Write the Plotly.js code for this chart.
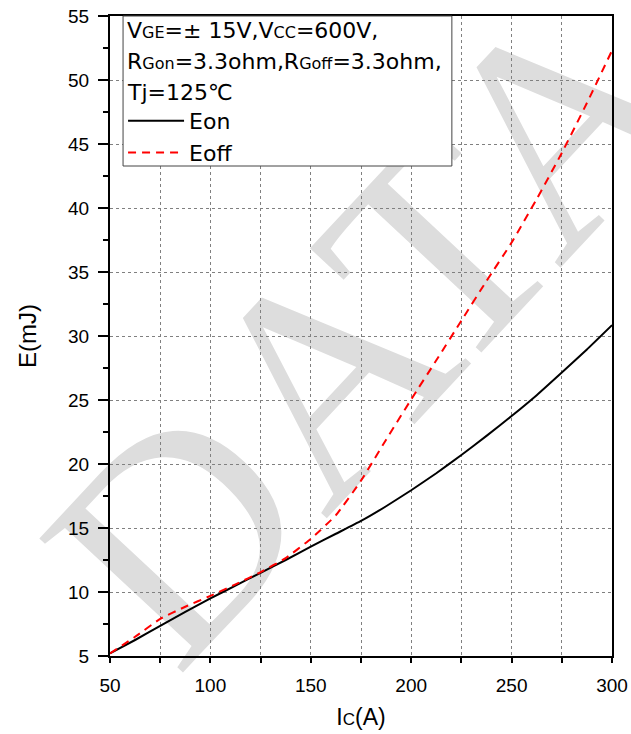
<!DOCTYPE html>
<html>
<head>
<meta charset="utf-8">
<script src="https://cdn.plot.ly/plotly-3.0.1.min.js"></script>
<style>html,body{margin:0;padding:0;background:#fff;}#chart{width:631px;height:734px;}</style>
</head>
<body>
<div id="chart"></div>
<script>
// Collector current Ic (A)
var ic = [50, 62.5, 75, 87.5, 100, 112.5, 125, 137.5, 150, 162.5, 175, 187.5, 200, 212.5, 225, 237.5, 250, 262.5, 275, 287.5, 300];
// Turn-on energy Eon (mJ)
var eon = [5.2, 6.25, 7.35, 8.45, 9.5, 10.5, 11.5, 12.5, 13.55, 14.55, 15.55, 16.7, 17.95, 19.28, 20.7, 22.2, 23.75, 25.38, 27.15, 28.95, 30.85];
// Turn-off energy Eoff (mJ)
var eoff = [5.2, 6.5, 7.9, 8.85, 9.7, 10.6, 11.55, 12.65, 14.15, 16.0, 18.7, 21.9, 25.05, 28.1, 31.2, 34.3, 37.3, 40.7, 44.3, 48.2, 52.3];

var seriesNames = ['Eon', 'Eoff'];
var condLines = [
  'V<span style="font-size:16px">GE</span>=± 15V,V<span style="font-size:16px">CC</span>=600V,',
  'R<span style="font-size:16px">Gon</span>=3.3ohm,R<span style="font-size:16px">Goff</span>=3.3ohm,',
  'Tj=125℃'
];
var xTitle = 'I<span style="font-size:17px">C</span>(A)';
var yTitle = 'E(mJ)';
var watermark = 'DATA';

var FONT = 'Liberation Sans, Arial, sans-serif';
var BOXFONT = 'DejaVu Sans, sans-serif';

var traces = [
  {x: ic, y: eon, name: seriesNames[0], type: 'scatter', mode: 'lines',
   line: {color: '#000000', width: 2, shape: 'spline', smoothing: 0.4}},
  {x: ic, y: eoff, name: seriesNames[1], type: 'scatter', mode: 'lines',
   line: {color: '#ff0000', width: 2, dash: '8px,6px', shape: 'spline', smoothing: 0.4}}
];

var lineCentres = [14.5, 45, 76.5];
var annotations = condLines.map(function (t, i) {
  return {xref: 'paper', yref: 'paper', x: 0.03, y: 1 - lineCentres[i] / 640,
    xanchor: 'left', yanchor: 'middle', showarrow: false, align: 'left',
    text: t, font: {family: BOXFONT, size: 22, color: '#000'}};
});

var layout = {
  width: 631, height: 734,
  margin: {l: 110, r: 19, t: 16, b: 78},
  paper_bgcolor: '#fff', plot_bgcolor: 'rgba(0,0,0,0)',
  showlegend: true,
  legend: {x: 0.026, y: 1 - 84 / 640, xanchor: 'left', yanchor: 'top',
    bgcolor: 'rgba(0,0,0,0)', borderwidth: 0, itemwidth: 56,
    font: {family: BOXFONT, size: 22, color: '#000'}, tracegroupgap: 0},
  font: {family: FONT, color: '#000'},
  xaxis: {
    range: [50, 300], tickvals: [50, 100, 150, 200, 250, 300],
    ticks: 'outside', ticklen: 5, tickwidth: 2, tickcolor: '#000',
    showline: true, linewidth: 2, linecolor: '#000', mirror: true,
    showgrid: true, gridcolor: '#808080', gridwidth: 1, griddash: 'dot',
    zeroline: false, ticklabelstandoff: 6,
    minor: {dtick: 25, ticks: 'outside', ticklen: 5, tickwidth: 2, tickcolor: '#000',
      showgrid: true, gridcolor: '#808080', gridwidth: 1, griddash: 'dot'},
    tickfont: {family: FONT, size: 19, color: '#000'},
    title: {text: xTitle, font: {family: FONT, size: 23, color: '#000'}, standoff: 14}
  },
  yaxis: {
    range: [5, 55], dtick: 5, tick0: 5,
    ticks: 'outside', ticklen: 10, tickwidth: 2, tickcolor: '#000',
    showline: true, linewidth: 2, linecolor: '#000', mirror: true,
    showgrid: true, gridcolor: '#808080', gridwidth: 1, griddash: 'dot',
    zeroline: false, ticklabelstandoff: 5,
    minor: {dtick: 2.5, ticks: 'outside', ticklen: 5, tickwidth: 2, tickcolor: '#000', showgrid: false},
    tickfont: {family: FONT, size: 19, color: '#000'},
    title: {text: yTitle, font: {family: FONT, size: 24, color: '#000'}, standoff: 25}
  },
  shapes: [
    {type: 'rect', xref: 'paper', yref: 'paper', x0: 0.465, x1: 0.466, y0: 0.55, y1: 0.551,
     layer: 'below', line: {width: 0}, fillcolor: 'rgba(0,0,0,0)',
     label: {text: watermark, textangle: -47, textposition: 'middle center',
       font: {family: 'Liberation Serif, Times New Roman, serif', size: 300, color: '#dddddd'}}},
    {type: 'rect', xref: 'paper', yref: 'paper', x0: 0.026, x1: 0.681, y0: 1 - 150 / 640, y1: 1,
     layer: 'above', line: {width: 1, color: '#444'}, fillcolor: '#ffffff'}
  ],
  annotations: annotations
};

Plotly.newPlot('chart', traces, layout, {displayModeBar: false, staticPlot: true});
</script>
</body>
</html>
